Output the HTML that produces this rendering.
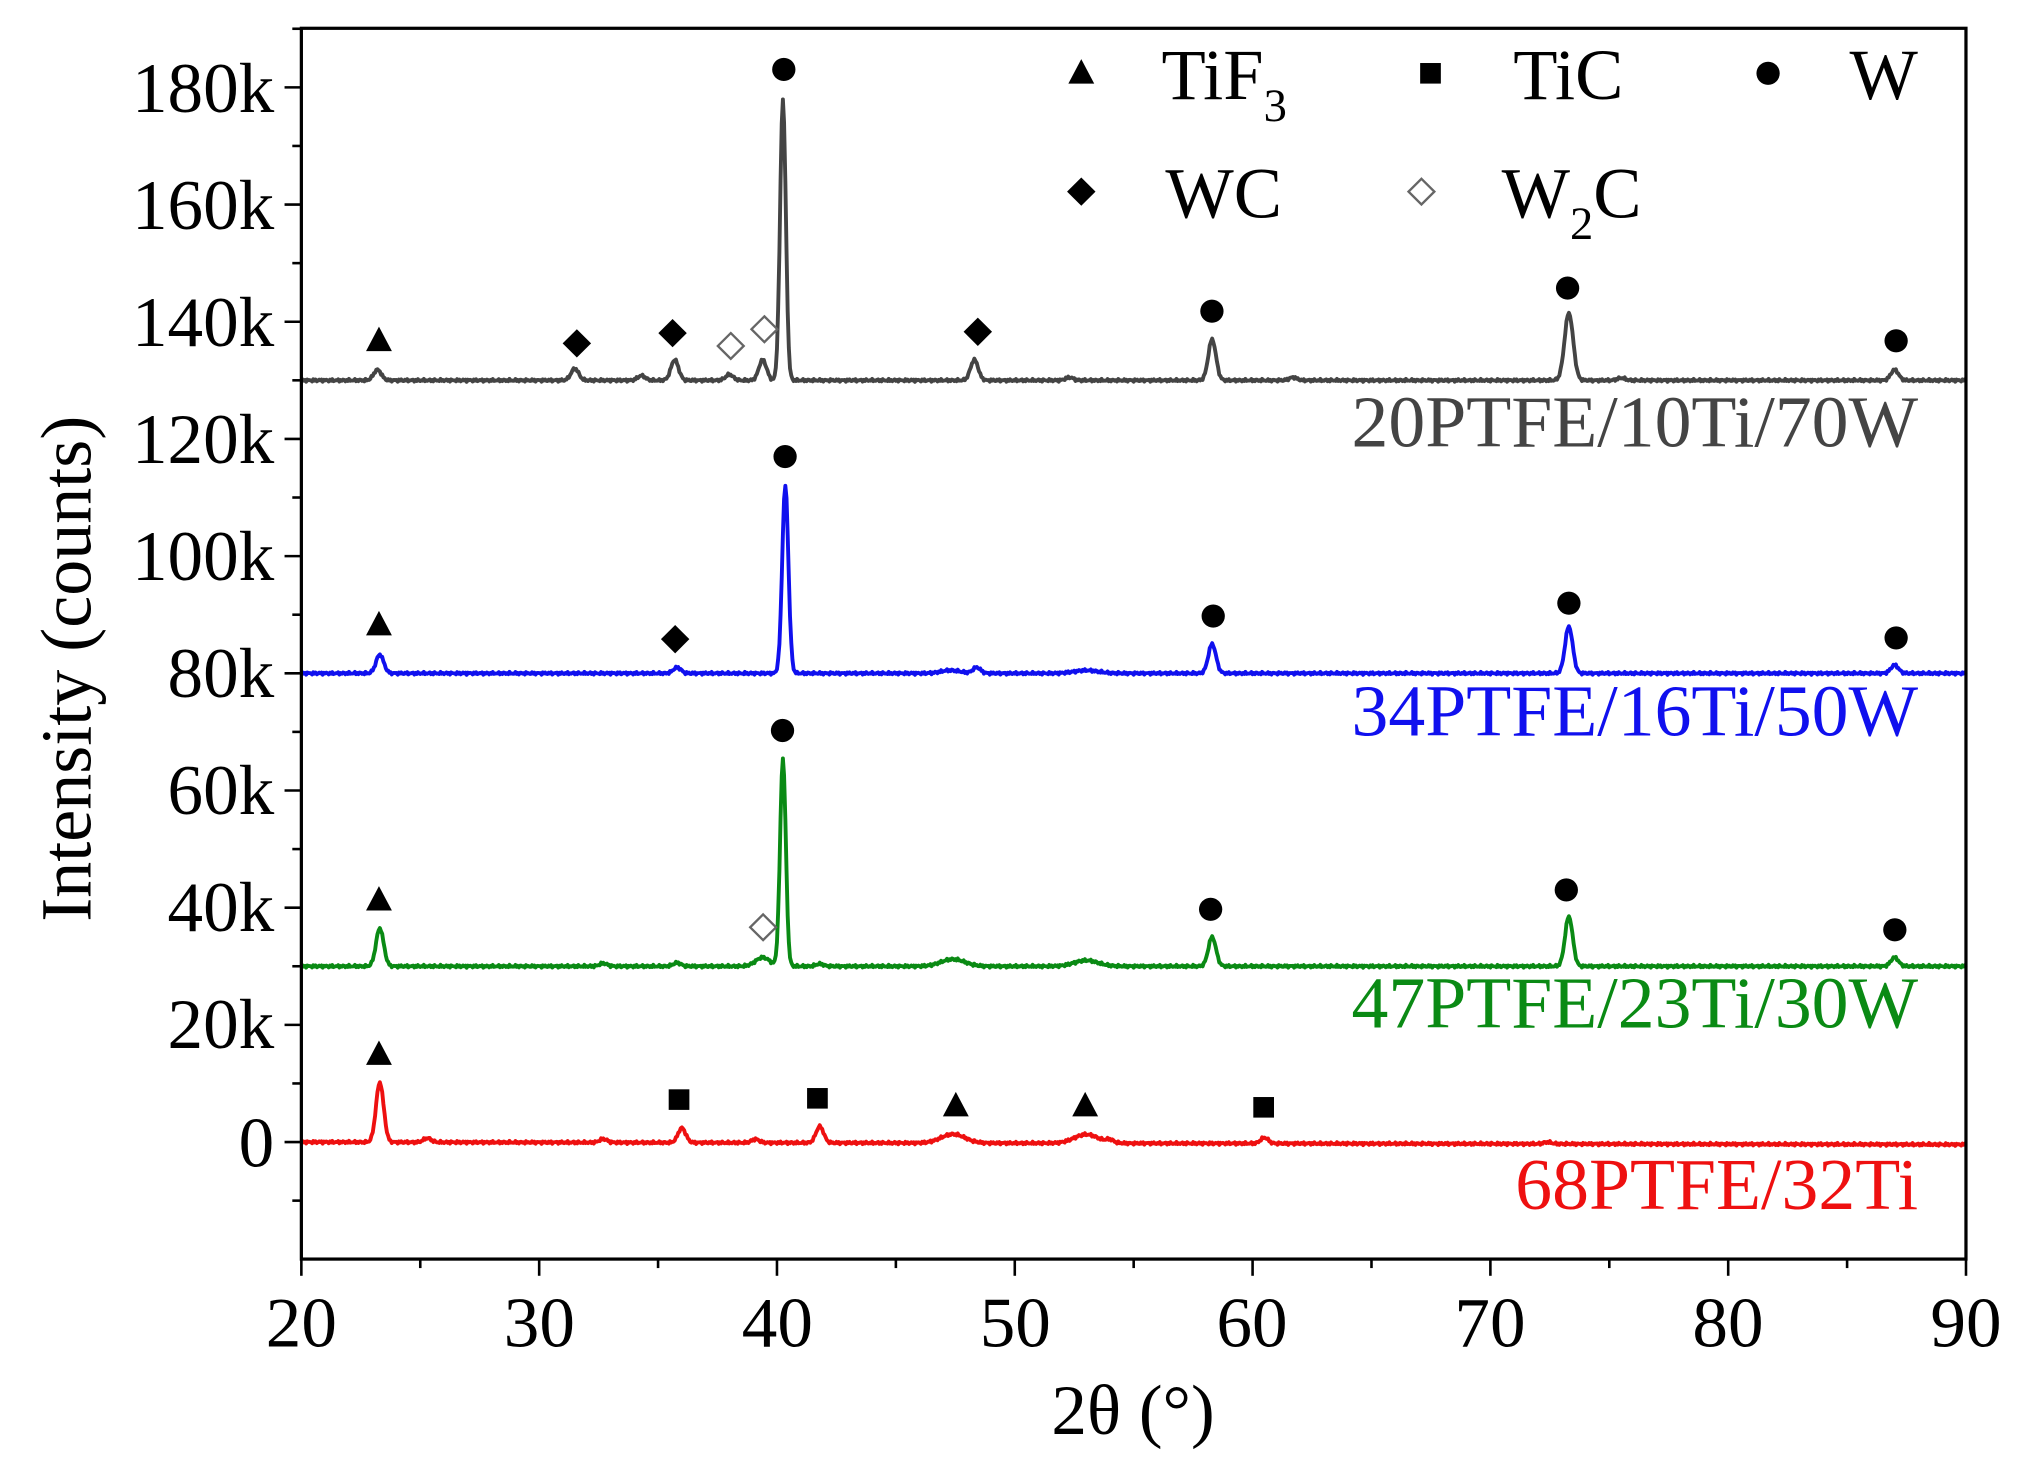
<!DOCTYPE html>
<html><head><meta charset="utf-8"><style>html,body{margin:0;padding:0;background:#fff;}svg{display:block}</style></head>
<body>
<svg id="s" width="2019" height="1479" viewBox="0 0 1561 1150" preserveAspectRatio="none" xmlns="http://www.w3.org/2000/svg" font-family="Liberation Serif, serif">
<rect x="0" y="0" width="1561" height="1150" fill="#fff"/>
<g id="curves" fill="none" stroke-width="3" stroke-linejoin="round"></g>
<rect x="233" y="22" width="1287" height="957" fill="none" stroke="#000" stroke-width="2.5"/>
<g id="ticks" stroke="#000" stroke-width="2"></g>
<g font-size="55" fill="#000" text-anchor="end">
<text x="212" y="87">180k</text><text x="212" y="178">160k</text><text x="212" y="269">140k</text>
<text x="212" y="360">120k</text><text x="212" y="451">100k</text><text x="212" y="542">80k</text>
<text x="212" y="633">60k</text><text x="212" y="724">40k</text><text x="212" y="815">20k</text>
<text x="212" y="907">0</text>
</g>
<g font-size="55" fill="#000" text-anchor="middle">
<text x="233" y="1047">20</text><text x="417" y="1047">30</text><text x="601" y="1047">40</text>
<text x="785" y="1047">50</text><text x="968" y="1047">60</text><text x="1152" y="1047">70</text>
<text x="1336" y="1047">80</text><text x="1520" y="1047">90</text>
<text x="876" y="1115">2θ (°)</text>
<text font-size="56" transform="translate(70,520) rotate(-90)">Intensity (counts)</text>
</g>
<g font-size="57" text-anchor="end">
<text x="1483" y="347" fill="#444">20PTFE/10Ti/70W</text>
<text x="1483" y="572" fill="#1010ee">34PTFE/16Ti/50W</text>
<text x="1483" y="799" fill="#0a8a14">47PTFE/23Ti/30W</text>
<text x="1483" y="940" fill="#ee1010">68PTFE/32Ti</text>
</g>
<g font-size="56" fill="#000">
<text x="898" y="77">TiF<tspan font-size="36" dy="17">3</tspan></text>
<text x="1170" y="77">TiC</text>
<text x="1430" y="77">W</text>
<text x="901" y="169">WC</text>
<text x="1161" y="169">W<tspan font-size="36" dy="17">2</tspan><tspan dy="-17">C</tspan></text>
</g>
<g id="marks"></g>
</svg>
<script>
const X=d=>233+(d-20)*18.386, Y=k=>888-k*4.556;
function series(base,peaks,color,slope){
  let d='';
  for(let i=0;i<=1400;i++){
    const t=20+70*i/1400;let v=base+(slope||0)*(t-20);
    for(const p of peaks){const w=p[2]||0.16;v+=p[1]*Math.exp(-((t-p[0])**2)/(2*w*w));}
    v+=Math.sin(i*2.7)*0.15+Math.sin(i*1.3)*0.1;
    d+=(i?'L':'M')+X(t).toFixed(1)+' '+Y(v).toFixed(1);
  }
  const p=document.createElementNS('http://www.w3.org/2000/svg','path');
  p.setAttribute('d',d);p.setAttribute('stroke',color);document.getElementById('curves').appendChild(p);
}
series(130,[[23.2,1.8],[31.5,2],[34.3,0.8],[35.7,3.5],[38,1],[39.4,3.5],[40.25,48,0.12],[48.3,3.5],[52.3,0.5],[58.3,7],[61.7,0.5],[73.3,11.5,0.18],[75.5,0.4],[87,1.8]],'#444');
series(80,[[23.3,3.2],[35.8,1],[40.35,32,0.13],[47.3,0.5,0.4],[48.4,1],[53,0.5,0.5],[58.3,5],[73.3,8],[87,1.4]],'#1010ee');
series(30,[[23.3,6.5],[32.7,0.5],[35.8,0.6],[39.4,1.5,0.3],[40.25,35.5,0.12],[41.8,0.4],[47.4,1.2,0.5],[53,1,0.5],[58.3,5],[73.3,8.5],[87,1.5]],'#0a8a14');
series(0,[[23.3,10.2],[25.3,0.7],[32.7,0.6],[36,2.5],[39.1,0.6],[41.8,2.8],[47.4,1.5,0.5],[53,1.5,0.5],[54,0.5],[60.5,1],[72.4,0.3]],'#ee1010',-0.006);
const tk=document.getElementById('ticks');let h='';
for(let k=-10;k<=190;k+=10){const y=Y(k);const L=k%20==0?13:7;h+=`<line x1="${233-L}" y1="${y}" x2="233" y2="${y}"/>`;}
for(let d=20;d<=90;d+=5){const x=X(d);const L=d%10==0?13:7;h+=`<line x1="${x}" y1="979" x2="${x}" y2="${979+L}"/>`;}
tk.innerHTML=h;
const tri=(x,y)=>`<polygon points="${x},${y-11} ${x-10},${y+8} ${x+10},${y+8}" fill="#000"/>`;
const sq=(x,y)=>`<rect x="${x-8}" y="${y-8}" width="16" height="16" fill="#000"/>`;
const ci=(x,y)=>`<circle cx="${x}" cy="${y}" r="9" fill="#000"/>`;
const di=(x,y)=>`<polygon points="${x},${y-11} ${x+11},${y} ${x},${y+11} ${x-11},${y}" fill="#000"/>`;
const od=(x,y)=>`<polygon points="${x},${y-10} ${x+10},${y} ${x},${y+10} ${x-10},${y}" fill="#fff" stroke="#666" stroke-width="1.8"/>`;
let m='';
m+=tri(293,265)+di(446,267)+di(520,259)+od(565,269)+od(591,256)+ci(606,54)+di(756,258)+ci(937,242)+ci(1212,224)+ci(1466,265);
m+=tri(293,486)+di(522,497)+ci(607,355)+ci(938,479)+ci(1213,469)+ci(1466,496);
m+=tri(293,700)+od(590,721)+ci(605,568)+ci(936,707)+ci(1211,692)+ci(1465,723);
m+=tri(293,820)+sq(525,855)+sq(632,854)+tri(739,860)+tri(839,860)+sq(977,861);
m+=tri(836,57)+sq(1106,57)+ci(1367,57)+di(836,149)+od(1099,149);
document.getElementById('marks').innerHTML=m;
</script>
</body></html>
